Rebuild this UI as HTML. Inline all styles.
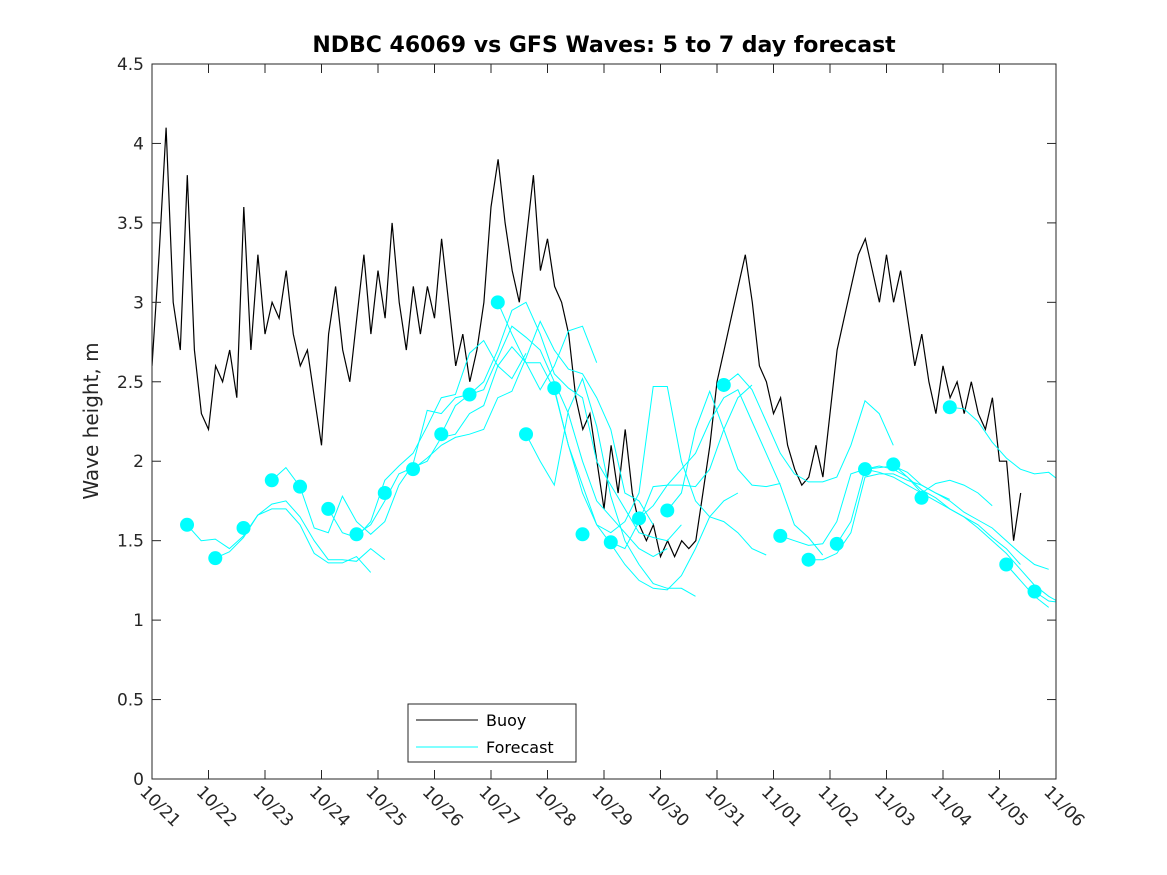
<!DOCTYPE html>
<html><head><meta charset="utf-8"><style>
body{margin:0;background:#fff;}
svg{display:block;font-family:"DejaVu Sans","Liberation Sans",sans-serif;}
</style></head><body>
<svg id="chart" width="1167" height="875" xmlns="http://www.w3.org/2000/svg">
<defs><clipPath id="pc"><rect x="152" y="64" width="904" height="715"/></clipPath></defs>
<rect x="0" y="0" width="1167" height="875" fill="#fff"/>
<text x="604" y="52" text-anchor="middle" font-size="22" font-weight="bold" fill="#000">NDBC 46069 vs GFS Waves: 5 to 7 day forecast</text>
<text transform="translate(98,421) rotate(-90)" text-anchor="middle" font-size="20" fill="#262626">Wave height, m</text>
<g id="plot" clip-path="url(#pc)"></g>
<g id="axes"></g>
<g>
<rect x="408" y="704" width="168" height="58" fill="#fff" stroke="#262626" stroke-width="1"/>
<line x1="416" y1="720" x2="478" y2="720" stroke="#000" stroke-width="1"/>
<text x="486" y="726" font-size="16" fill="#000">Buoy</text>
<line x1="416" y1="747" x2="478" y2="747" stroke="#00ffff" stroke-width="1"/>
<text x="486" y="753" font-size="16" fill="#000">Forecast</text>
</g>
</svg>
<script>
const xTickLabels=["10/21","10/22","10/23","10/24","10/25","10/26","10/27","10/28","10/29","10/30","10/31","11/01","11/02","11/03","11/04","11/05","11/06"];
const yTicks=[0,0.5,1,1.5,2,2.5,3,3.5,4,4.5];
const buoyStep=0.125;
const buoy=[2.6,3.3,4.1,3.0,2.7,3.8,2.7,2.3,2.2,2.6,2.5,2.7,2.4,3.6,2.7,3.3,2.8,3.0,2.9,3.2,2.8,2.6,2.7,2.4,2.1,2.8,3.1,2.7,2.5,2.9,3.3,2.8,3.2,2.9,3.5,3.0,2.7,3.1,2.8,3.1,2.9,3.4,3.0,2.6,2.8,2.5,2.7,3.0,3.6,3.9,3.5,3.2,3.0,3.4,3.8,3.2,3.4,3.1,3.0,2.8,2.4,2.2,2.3,2.0,1.7,2.1,1.8,2.2,1.8,1.6,1.5,1.6,1.4,1.5,1.4,1.5,1.45,1.5,1.8,2.1,2.5,2.7,2.9,3.1,3.3,3.0,2.6,2.5,2.3,2.4,2.1,1.95,1.85,1.9,2.1,1.9,2.3,2.7,2.9,3.1,3.3,3.4,3.2,3.0,3.3,3.0,3.2,2.9,2.6,2.8,2.5,2.3,2.6,2.4,2.5,2.3,2.5,2.3,2.2,2.4,2.0,2.0,1.5,1.8];
const fcStep=0.25;
const fcStarts=[0.62,1.12,2.12,3.12,3.62,4.62,5.12,5.62,6.12,6.62,7.12,8.12,8.62,9.12,10.12,11.12,11.62,12.12,12.62,13.12,14.12,15.12,15.62];
const fcA=[1.60,1.50,1.51,1.45,1.53,1.66,1.70,1.70,1.60,1.42,1.36,1.36,1.40,1.30];
const fcB=[1.39,1.43,1.52,1.66,1.73,1.75,1.65,1.50,1.38,1.38,1.37,1.45,1.38];
const fcC=[1.88,1.96,1.84,1.58,1.55,1.78,1.62,1.54,1.62,1.85,1.98,2.32,2.30,2.40,2.42];
const fcD=[1.70,1.55,1.52,1.62,1.88,1.97,2.05,2.22,2.40,2.42,2.68,2.76,2.60,2.52,2.68];
const fcE=[1.54,1.60,1.75,1.92,1.96,2.00,2.15,2.17,2.30,2.35,2.60,2.72,2.62,2.45,2.60,2.82,2.85,2.62];
const fcF=[1.95,2.02,2.10,2.15,2.17,2.20,2.40,2.44,2.65,2.88,2.70,2.58,2.55,2.40,2.20,1.80,1.75,1.60];
const fcG=[2.17,2.35,2.42,2.50,2.70,2.95,3.00,2.80,2.55,2.46,2.40,2.00,1.85,1.70,1.55,1.52,1.50,1.60];
const fcH=[2.42,2.45,2.65,2.85,2.78,2.70,2.50,2.30,2.00,1.75,1.65,1.55,1.45,1.40,1.45];
const fcI=[3.00,2.80,2.62,2.62,2.45,2.10,1.85,1.60,1.48,1.35,1.25,1.20,1.19,1.28,1.45,1.65,1.75,1.80];
const fcJ=[2.17,2.00,1.85,2.32,2.52,2.22,1.78,1.50,1.35,1.23,1.20,1.20,1.15];
const fcK=[2.46,2.10,1.80,1.60,1.55,1.62,1.80,2.47,2.47,2.00,1.75,1.65,1.62,1.55,1.45,1.41];
const fcL=[1.49,1.45,1.62,1.84,1.85,1.95,2.05,2.25,2.40,2.45,2.25,2.05,1.85,1.60,1.52,1.41];
const fcM=[1.64,1.72,1.85,1.85,1.84,1.95,2.20,2.40,2.48];
const fcN=[1.69,1.80,2.20,2.44,2.20,1.95,1.85,1.84,1.86];
const fcO=[2.48,2.55,2.45,2.25,2.05,1.92,1.87,1.87,1.90,2.10,2.38,2.30,2.10];
const fcP=[1.53,1.50,1.47,1.48,1.62,1.92,1.95,1.93,1.90,1.85,1.80,1.75,1.70,1.65,1.60,1.52,1.45,1.35];
const fcQ=[1.38,1.38,1.42,1.55,1.90,1.92,1.92,1.88,1.85,1.80,1.75,1.68,1.63,1.58,1.50,1.42,1.35,1.32];
const fcR=[1.48,1.62,1.95,1.96,1.97,1.93,1.85,1.80,1.76];
const fcS=[1.95,1.97,1.95,1.90,1.80,1.86,1.88,1.85,1.80,1.72];
const fcT=[1.98,1.90,1.82,1.77,1.70,1.65,1.58,1.50,1.42,1.32,1.22,1.15,1.10];
const fcU=[2.34,2.33,2.25,2.12,2.02,1.95,1.92,1.93,1.86];
const fcV=[1.35,1.25,1.15,1.08];
const fcW=[1.18,1.12,1.11];
const fcRuns=[fcA,fcB,fcC,fcD,fcE,fcF,fcG,fcH,fcI,fcJ,fcK,fcL,fcM,fcN,fcO,fcP,fcQ,fcR,fcS,fcT,fcU,fcV,fcW];
const dotDays=[0.62,1.12,1.62,2.12,2.62,3.12,3.62,4.12,4.62,5.12,5.62,6.12,6.62,7.12,7.62,8.12,8.62,9.12,10.12,11.12,11.62,12.12,12.62,13.12,13.62,14.12,15.12,15.62];
const dotVals=[1.60,1.39,1.58,1.88,1.84,1.70,1.54,1.80,1.95,2.17,2.42,3.00,2.17,2.46,1.54,1.49,1.64,1.69,2.48,1.53,1.38,1.48,1.95,1.98,1.77,2.34,1.35,1.18];

const L=152,R=1056,T=64,B=779,NS="http://www.w3.org/2000/svg";
const xS=d=>L+(R-L)*d/16;
const yS=v=>B-(B-T)*v/4.5;
const plot=document.getElementById('plot'),axes=document.getElementById('axes');
function mk(tag,attrs,parent){const e=document.createElementNS(NS,tag);for(const k in attrs)e.setAttribute(k,attrs[k]);parent.appendChild(e);return e;}

const bpts=buoy.map((v,i)=>xS(i*buoyStep).toFixed(1)+","+yS(v).toFixed(1)).join(" ");
const bl=mk('polyline',{points:bpts,fill:'none',stroke:'#000','stroke-width':1.2},plot);



fcRuns.forEach((run,r)=>{
  const pts=run.map((v,i)=>xS(fcStarts[r]+i*fcStep).toFixed(1)+","+yS(v).toFixed(1)).join(" ");
  const pl=mk('polyline',{points:pts,fill:'none',stroke:'#00ffff','stroke-width':1},plot);
  
  
});
dotDays.forEach((d,i)=>{
  const c=mk('circle',{cx:xS(d),cy:yS(dotVals[i]),r:7,fill:'#00ffff'},plot);
  
  
});

const box=mk('rect',{x:L,y:T,width:R-L,height:B-T,fill:'none',stroke:'#262626','stroke-width':1},axes);


yTicks.forEach(v=>{
  const y=yS(v);
  mk('line',{x1:L,y1:y,x2:L+9,y2:y,stroke:'#262626'},axes);
  mk('line',{x1:R,y1:y,x2:R-9,y2:y,stroke:'#262626'},axes);
  const t=mk('text',{x:L-8,y:y+6,'text-anchor':'end','font-size':17,fill:'#262626'},axes);
  t.textContent=String(v);
  
  
});
xTickLabels.forEach((lab,i)=>{
  const x=xS(i);
  mk('line',{x1:x,y1:B,x2:x,y2:B-9,stroke:'#262626'},axes);
  mk('line',{x1:x,y1:T,x2:x,y2:T+9,stroke:'#262626'},axes);
  const t=mk('text',{transform:`translate(${x-13},${B+14}) rotate(45)`,'font-size':17,fill:'#262626'},axes);
  t.textContent=lab;
  
  
});
</script>
</body></html>
